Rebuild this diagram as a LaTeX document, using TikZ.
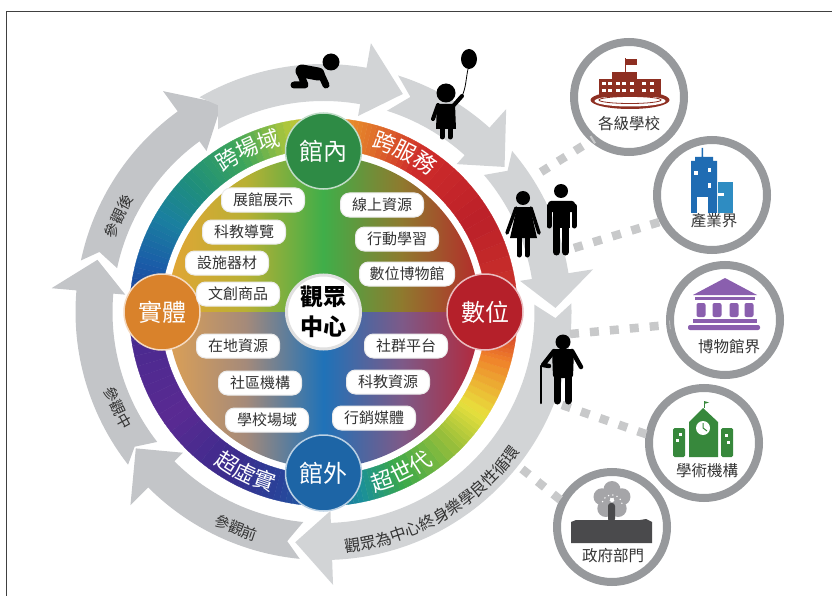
\documentclass[tikz,border=0pt]{standalone}
\usepackage{fontspec}
\setmainfont{Noto Sans CJK TC}
\usetikzlibrary{decorations.text}

\definecolor{arrowdark}{HTML}{C3C5C8}
\definecolor{arrowlight}{HTML}{D2D4D6}
\definecolor{ringgray}{HTML}{97999C}
\definecolor{dotgray}{HTML}{C8C9CA}
\definecolor{textgray}{HTML}{333333}
\definecolor{schoolred}{HTML}{8E2F22}
\definecolor{towerblue}{HTML}{1F6CB3}
\definecolor{annexblue}{HTML}{2E8CC2}
\definecolor{museumpurple}{HTML}{8A5FAE}
\definecolor{academygreen}{HTML}{37883C}
\definecolor{wallgray}{HTML}{4A4A4C}
\definecolor{plumgray}{HTML}{A5A5A8}
\definecolor{hubgreen}{HTML}{2E8B45}
\definecolor{huborange}{HTML}{D9822B}
\definecolor{hubred}{HTML}{B5202A}
\definecolor{hubblue}{HTML}{1D65A6}

\definecolor{ua}{HTML}{E2A535}
\definecolor{ub}{HTML}{B9B034}
\definecolor{uc}{HTML}{3FAE49}
\definecolor{ud}{HTML}{8F7A2E}
\definecolor{ue}{HTML}{B52A2A}
\definecolor{la}{HTML}{DCA055}
\definecolor{lb}{HTML}{A58A7A}
\definecolor{lc}{HTML}{1F72B8}
\definecolor{ld}{HTML}{7D5A88}
\definecolor{le}{HTML}{B4283A}
\pgfdeclarehorizontalshading{upperfill}{100bp}{color(0bp)=(ua); color(25bp)=(ua); color(37.5bp)=(ub); color(50bp)=(uc); color(62.5bp)=(ud); color(75bp)=(ue); color(100bp)=(ue)}
\pgfdeclarehorizontalshading{lowerfill}{100bp}{color(0bp)=(la); color(25bp)=(la); color(37.5bp)=(lb); color(50bp)=(lc); color(62.5bp)=(ld); color(75bp)=(le); color(100bp)=(le)}

\tikzset{
    hub/.style={circle, draw=white!70!#1, fill=#1, line width=1.5pt, minimum size=76pt, inner sep=0pt,
        text=white, font=\fontsize{24}{24}\selectfont},
    chip/.style={rounded corners=9pt, draw=black!8, fill=white, line width=1pt, minimum height=24pt,
        minimum width=83pt, inner sep=0pt, text=textgray, font=\fontsize{15}{15}\selectfont},
    sidering/.style={circle, draw=ringgray, fill=white, line width=8pt, minimum size=110pt, inner sep=0pt, outer sep=0pt},
    sidelabel/.style={text=textgray, inner sep=0pt, font=\fontsize{15.5}{15.5}\selectfont},
    dotline/.style={dotgray, line width=8.5pt, dash pattern=on 9pt off 11pt},
    limb/.style={black, line width=#1, line cap=round, line join=round}
}

% one grey piece of the outer loop: tail, notch, neck, tip angles
\newcommand{\looparrow}[5]{
    \fill[#5] (#1:248) arc[start angle=#1, end angle=#3, radius=248pt] -- (#3:273) -- (#4:232)
        -- (#3:199) -- (#3:211) arc[start angle=#3, end angle=#1, radius=211pt] -- (#2:232) -- cycle;
}
\newcommand{\arclabel}[5]{
    \path[decorate, decoration={text along path, text align=center, text={|#5|#4}}]
        (#1:#2) arc[start angle=#1, end angle=#3, radius=#2pt];
}
\newcommand{\whitefont}{\color{white}\fontsize{22}{22}\selectfont}
\newcommand{\grayfont}{\color{textgray}\fontsize{15}{15}\selectfont}
\newcommand{\longfont}{\color{textgray}\fontsize{16}{16}\selectfont}

\begin{document}
\begin{tikzpicture}[x=1pt, y=1pt]
    \useasboundingbox (0,0) rectangle (832,-596);
    \draw[black!75, line width=1.6pt] (6.5,-596) -- (6.5,-11.5) -- (832,-11.5);

    \begin{scope}[shift={(323.5,-312)}]
        \looparrow{168}{165}{126}{116}{arrowdark}
        \looparrow{120}{117}{80}{70}{arrowlight}
        \looparrow{72.5}{68}{48}{38.7}{arrowlight}
        \looparrow{40.5}{37.5}{9}{1}{arrowlight}
        \looparrow{2}{-1.5}{-88}{-97}{arrowlight}
        \looparrow{-95.5}{-99}{-135}{-144}{arrowdark}
        \looparrow{-142}{-144.5}{-185}{-193}{arrowdark}

        % colour wheel, piece by piece
        \foreach \angA/\colA/\angB/\colB in {
            -90/1D65A6/-78/1A8F9A, -78/1A8F9A/-65/3AA84A, -65/3AA84A/-45/9CC03A, -45/9CC03A/-33/E8E03C,
            -33/E8E03C/-15/F0802A, -15/F0802A/-5/D03A2A, -5/D03A2A/30/BC2029, 30/BC2029/58/CE2C2A,
            58/CE2C2A/74/E0702A, 74/E0702A/85/EA962A, 85/EA962A/100/B5C83A, 100/B5C83A/118/3DA55A,
            118/3DA55A/135/1F8F7A, 135/1F8F7A/150/1A7FA0, 150/1A7FA0/165/1A5CA8, 165/1A5CA8/178/1C3C96,
            178/1C3C96/190/4B2A90, 190/4B2A90/215/5A2A92, 215/5A2A92/240/3A2C8C, 240/3A2C8C/255/2A4098,
            255/2A4098/270/1D65A6} {
            \definecolor{ca}{HTML}{\colA}
            \definecolor{cb}{HTML}{\colB}
            \foreach \k in {0,...,7} {
                \pgfmathsetmacro{\from}{\angA+(\angB-\angA)*\k/8}
                \pgfmathsetmacro{\to}{\angA+(\angB-\angA)*(\k+1)/8}
                \pgfmathsetmacro{\mixpart}{(\k+0.5)*12.5}
                \colorlet{cc}{cb!\mixpart!ca}
                \fill[cc, draw=cc, line width=0.3pt] (\from:163) arc[start angle=\from, end angle=\to, radius=163pt]
                    -- (\to:194) arc[start angle=\to, end angle=\from, radius=194pt] -- cycle;
            }
        }

        \shade[shading=upperfill] (156,0) arc[start angle=0, end angle=180, radius=156pt] -- cycle;
        \shade[shading=lowerfill] (-156,0) arc[start angle=180, end angle=360, radius=156pt] -- cycle;

        \arclabel{145}{172}{85}{跨場域}{\whitefont}
        \arclabel{93}{172}{33}{跨服務}{\whitefont}
        \arclabel{214}{187}{274}{超虛實}{\whitefont}
        \arclabel{-94}{187}{-34}{超世代}{\whitefont}
        \arclabel{185}{221}{125}{參觀後}{\grayfont}
        \arclabel{175}{233}{235}{參觀中}{\grayfont}
        \arclabel{218}{239}{278}{參觀前}{\grayfont}
        \arclabel{-110}{241}{-10}{觀眾為中心終身樂學良性循環}{\longfont}
    \end{scope}

    \node[hub=hubgreen] (inside) at (323.5,-151) {館內};
    \node[hub=huborange] (real) at (162,-312) {實體};
    \node[hub=hubred] (digital) at (485,-312) {數位};
    \node[hub=hubblue] (outside) at (323.5,-473) {館外};
    \node[circle, draw=black!12, fill=white, line width=3pt, minimum size=74pt, inner sep=0pt, align=center,
        font=\bfseries\fontsize{23}{30}\selectfont] (visitor) at (323.5,-312) {觀眾\\中心};

    \node[chip] (exhibit) at (263,-200) {展館展示};
    \node[chip] (guide) at (244,-232) {科教導覽};
    \node[chip] (facility) at (227,-263) {設施器材};
    \node[chip] (goods) at (238,-294) {文創商品};
    \node[chip] (online) at (382,-205) {線上資源};
    \node[chip] (mobile) at (397,-239) {行動學習};
    \node[chip, minimum width=95pt] (dmuseum) at (407,-274) {數位博物館};
    \node[chip] (local) at (238,-346) {在地資源};
    \node[chip] (community) at (260,-383) {社區機構};
    \node[chip] (campus) at (267,-420) {學校場域};
    \node[chip] (social) at (406,-346) {社群平台};
    \node[chip] (science) at (388,-382) {科教資源};
    \node[chip] (media) at (374,-418) {行銷媒體};

    \node[sidering] (school) at (629,-97) {};
    \node[sidering] (industry) at (712,-195) {};
    \node[sidering] (museum) at (725,-320) {};
    \node[sidering] (academy) at (704,-443) {};
    \node[sidering] (government) at (612,-527) {};

    \coordinate (womanDots) at (541,-172);
    \coordinate (manDots) at (574,-248);
    \coordinate (elderDots) at (570,-334);
    \coordinate (caneDots) at (562,-405);
    \coordinate (loopDots) at (522,-469);
    \draw[dotline] (womanDots) -- (school.230);
    \draw[dotline] (manDots) -- (industry.208);
    \draw[dotline] (elderDots) -- (museum.185);
    \draw[dotline] (caneDots) -- (academy.172);
    \draw[dotline] (loopDots) -- (government.153);

    % crawling baby
    \fill[black] (331,-62) circle (8.5);
    \draw[limb=13pt] (302,-71) -- (318,-74);
    \draw[limb=7pt] (320,-72) -- (326,-85);
    \draw[limb=7pt] (300,-73) -- (305,-85) -- (294,-85);

    % child and balloon
    \fill[black] (446,-93) circle (9.5);
    \fill[black] (437,-104) -- (455,-104) -- (456,-129) -- (436,-129) -- cycle;
    \draw[limb=4pt] (438,-105) -- (433,-119);
    \draw[limb=4pt] (454,-105) -- (462,-96);
    \draw[limb=5pt] (442,-128) -- (442,-137);
    \draw[limb=5pt] (450,-128) -- (450,-137);
    \draw[black, line width=0.8pt] (462,-96) .. controls (466,-88) and (466,-78) .. (468,-69);
    \fill[black] (469,-59) ellipse (8 and 10);

    % woman
    \fill[black] (523,-198) circle (7);
    \fill[black] (517,-207) -- (530,-207) -- (537,-238) -- (510,-238) -- cycle;
    \draw[limb=3.5pt] (516,-208) -- (507,-233);
    \draw[limb=3.5pt] (531,-208) -- (539,-233);
    \draw[limb=5pt] (519,-238) -- (519,-255);
    \draw[limb=5pt] (527,-238) -- (527,-255);

    % man
    \fill[black] (561,-191) circle (7);
    \fill[black, rounded corners=3pt] (548,-201) rectangle (575,-212);
    \fill[black] (553,-204) rectangle (570,-228);
    \draw[limb=5pt] (549,-206) -- (549,-226);
    \draw[limb=5pt] (574,-206) -- (574,-226);
    \draw[limb=7pt] (556.5,-226) -- (556.5,-252);
    \draw[limb=7pt] (565.5,-226) -- (565.5,-252);

    % old man with cane
    \fill[black] (563,-342) circle (7.5);
    \fill[black, rounded corners=3pt] (552,-349) -- (574,-349) -- (573,-378) -- (553,-378) -- cycle;
    \draw[limb=4.5pt] (554,-351) -- (543,-365) -- (549,-366);
    \draw[limb=4.5pt] (572,-351) -- (581,-367);
    \draw[limb=7pt] (557,-375) -- (557,-401);
    \draw[limb=7pt] (568,-375) -- (568,-401);
    \draw[limb=2.5pt] (541,-403) -- (541,-366);

    % school
    \fill[schoolred] (630,-100) ellipse (39.5 and 9);
    \fill[white] (630,-101) ellipse (35.5 and 5.5);
    \draw[schoolred, line width=0.8pt] (630,-100) ellipse (31 and 3.5);
    \fill[schoolred] (599,-97) rectangle (661,-79);
    \fill[schoolred] (612,-97) rectangle (637,-72);
    \draw[schoolred, line width=1pt] (625,-72) -- (625,-58);
    \fill[schoolred] (625,-59) rectangle (637,-65);
    \foreach \wx in {602,608,616,622,630,642,650} {
        \foreach \wy in {-82,-89} {
            \fill[white] (\wx,\wy) rectangle ++(3.5,-3.5);
        }
    }
    \node[sidelabel] (schoolLabel) at (629,-124) {各級學校};

    % office towers
    \fill[towerblue] (691,-213) -- (691,-161) -- (695,-161) -- (695,-157) -- (701.5,-157) -- (701.5,-148) -- (703,-148)
        -- (703,-157) -- (713,-157) -- (713,-161) -- (717,-161) -- (717,-213) -- cycle;
    \fill[annexblue] (718,-182) rectangle (733,-213);
    \fill[white] (697,-213) rectangle (708,-197);
    \fill[white] (694,-171) rectangle (698,-175);
    \fill[white] (708,-168) rectangle (711,-172);
    \fill[white] (708,-183) rectangle (711,-188);
    \fill[white] (718,-193) rectangle (724,-196);
    \node[sidelabel, fill=white, inner sep=1pt] (industryLabel) at (714,-221) {產業界};

    % museum building
    \fill[museumpurple] (725,-278) -- (757,-295) -- (693,-295) -- cycle;
    \fill[museumpurple] (695,-297) rectangle (755,-300);
    \foreach \colx in {701,717,734,749} {
        \fill[museumpurple, rounded corners=2pt] (\colx-4.5,-303) rectangle (\colx+4.5,-317);
    }
    \fill[museumpurple] (693,-319) rectangle (757,-323);
    \fill[museumpurple, rounded corners=2pt] (688,-325) rectangle (760,-330);
    \node[sidelabel] (museumLabel) at (729,-347) {博物館界};

    % academy with clock
    \fill[academygreen] (689,-457) -- (689,-422) -- (703,-408) -- (718,-422) -- (718,-457) -- cycle;
    \draw[academygreen, line width=0.8pt] (704,-408) -- (704,-401);
    \fill[academygreen] (704,-401) -- (709,-402.5) -- (704,-404) -- cycle;
    \fill[academygreen, rounded corners=1.5pt] (673,-428) rectangle (685,-457);
    \fill[academygreen, rounded corners=1.5pt] (721,-428) rectangle (733,-457);
    \fill[white] (703,-428) circle (7);
    \draw[academygreen, line width=1pt] (703,-423) -- (703,-428) -- (707,-431);
    \fill[white] (679,-433) rectangle (682,-436);
    \fill[white] (676,-439) rectangle (679,-442);
    \fill[white] (725,-434) rectangle (728,-437);
    \fill[white] (727,-441) rectangle (730,-444);
    \node[sidelabel] (academyLabel) at (707,-471) {學術機構};

    % plum blossom and hall
    \foreach \petal in {90,162,234,306,18} {
        \fill[plumgray] (612,-500) ++(\petal:10.5) circle (8.5);
    }
    \foreach \spark in {10,35,...,170} {
        \fill[white] (612,-505) ++(\spark:10) circle (0.8);
    }
    \fill[wallgray] (571,-543) -- (571,-522) -- (576,-520) -- (640,-520) -- (646,-519) -- (652,-522) -- (652,-543) -- cycle;
    \fill[wallgray, rounded corners=3pt] (608,-522) -- (608,-503) -- (615,-503) -- (615,-522) -- cycle;
    \node[sidelabel] (governmentLabel) at (613,-556) {政府部門};
\end{tikzpicture}
\end{document}
